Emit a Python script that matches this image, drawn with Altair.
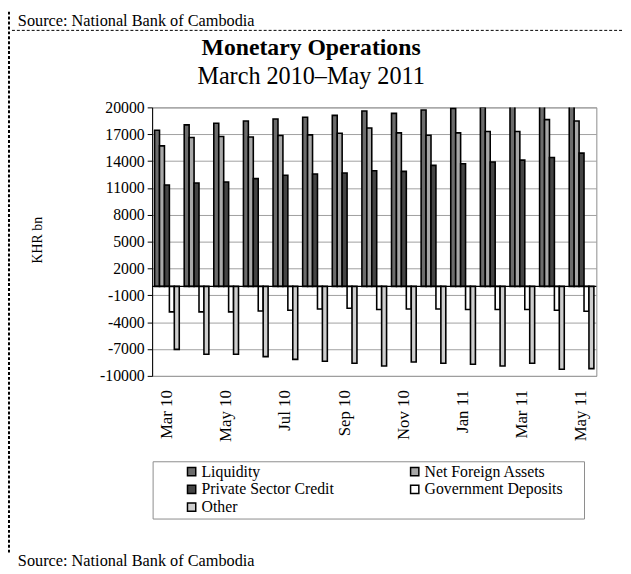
import altair as alt
import pandas as pd

# ---------------- data ----------------
months = ["Mar 10", "Apr 10", "May 10", "Jun 10", "Jul 10", "Aug 10", "Sep 10", "Oct 10",
          "Nov 10", "Dec 10", "Jan 11", "Feb 11", "Mar 11", "Apr 11", "May 11"]
series = ["Liquidity", "Net Foreign Assets", "Private Sector Credit",
          "Government Deposits", "Other"]
liquidity = [17450, 18050, 18220, 18480, 18700, 18890, 19110, 19590, 19330, 19700,
             19890, 20050, 20300, 20600, 20900]
net_foreign_assets = [15700, 16630, 16740, 16700, 16850, 16930, 17110, 17700, 17150, 16890,
                      17150, 17300, 17300, 18630, 18480]
private_sector_credit = [11330, 11560, 11670, 12040, 12410, 12560, 12670, 12930, 12850, 13520,
                         13700, 13890, 14110, 14410, 14890]
government_deposits = [-2850, -2850, -2850, -2740, -2670, -2520, -2440, -2590, -2520, -2520,
                       -2590, -2590, -2590, -2670, -2780]
other = [-7040, -7590, -7590, -7850, -8150, -8370, -8590, -8890, -8440, -8590,
         -8700, -8890, -8590, -9260, -9190]
y_ticks = [-10000, -7000, -4000, -1000, 2000, 5000, 8000, 11000, 14000, 17000, 20000]
shown_months = months[::2]

title_text = ["Monetary Operations"]
subtitle_text = ["March 2010\u2013May 2011"]
source_text = ["Source: National Bank of Cambodia"]
y_title = "KHR bn"

fills = ["#6c6c6c", "#a8a8a8", "#454545", "#ffffff", "#cdcdcd"]
# legend is filled column by column, so list entries in that order
legend_order = ["Liquidity", "Private Sector Credit", "Other",
                "Net Foreign Assets", "Government Deposits"]
legend_fills = [fills[series.index(s)] for s in legend_order]

rows = []
for i, m in enumerate(months):
    for s, vals in zip(series, [liquidity, net_foreign_assets, private_sector_credit,
                                government_deposits, other]):
        rows.append({"month": m, "series": s, "value": vals[i]})
df = pd.DataFrame(rows)

W, H = 450, 272
FONT = "Liberation Serif"

bars = alt.Chart(df).mark_bar(stroke="black", strokeWidth=1.6, clip=True).encode(
    x=alt.X("month:N", sort=months,
            scale=alt.Scale(paddingInner=0.167, paddingOuter=0.083),
            axis=alt.Axis(values=shown_months, labelAngle=270, ticks=False, domain=False,
                          labelPadding=14, title=None, grid=False, labelFontSize=17,
                          labelFont=FONT, labelColor="black")),
    xOffset=alt.XOffset("series:N", sort=series,
                        scale=alt.Scale(paddingInner=0, paddingOuter=0)),
    y=alt.Y("value:Q",
            scale=alt.Scale(domain=[-10000, 20000], nice=False, zero=False),
            axis=alt.Axis(values=y_ticks, tickCount=len(y_ticks), title=y_title,
                          titleAngle=270, titleX=-116,
                          titleY=134, titleAlign="center", titleBaseline="middle",
                          titleFont=FONT, titleFontSize=14, titleFontWeight="normal",
                          titleColor="black", labelOverlap=False,
                          labelExpr="'' + datum.value",
                          labelFont=FONT, labelFontSize=16, labelColor="black",
                          labelPadding=3, tickSize=5, tickColor="black",
                          domainColor="black", gridColor="#a0a0a0")),
    color=alt.Color("series:N",
                    scale=alt.Scale(domain=legend_order, range=legend_fills),
                    legend=alt.Legend(title=None, orient="none", legendX=32, legendY=361,
                                      columns=2, columnPadding=73, rowPadding=2,
                                      symbolType="square", symbolSize=70,
                                      symbolStrokeColor="black", symbolStrokeWidth=1.5,
                                      labelFont=FONT, labelFontSize=16, labelColor="black",
                                      labelOffset=2, padding=0)),
)

zero_line = alt.Chart(pd.DataFrame({"k": [0]})).mark_rule(
    color="black", strokeWidth=1.2).encode(y=alt.datum(0))

legend_box = alt.Chart(pd.DataFrame({"k": [0]})).mark_rect(
    fillOpacity=0, stroke="#8c8c8c", strokeWidth=1).encode(
    x=alt.value(1), x2=alt.value(438), y=alt.value(359), y2=alt.value(417))

title = alt.Chart(pd.DataFrame({"t": title_text})).mark_text(
    font=FONT, fontSize=24, fontWeight="bold", align="center", baseline="alphabetic",
    color="black").encode(text="t:N", x=alt.value(161), y=alt.value(-53))

subtitle = alt.Chart(pd.DataFrame({"t": subtitle_text})).mark_text(
    font=FONT, fontSize=24.5, align="center", baseline="alphabetic",
    color="black").encode(text="t:N", x=alt.value(161), y=alt.value(-24))

source_top = alt.Chart(pd.DataFrame({"t": source_text})).mark_text(
    font=FONT, fontSize=16.5, align="left", baseline="alphabetic",
    color="black").encode(text="t:N", x=alt.value(-136), y=alt.value(-82))

source_bottom = alt.Chart(pd.DataFrame({"t": source_text})).mark_text(
    font=FONT, fontSize=16.5, align="left", baseline="alphabetic",
    color="black").encode(text="t:N", x=alt.value(-136), y=alt.value(465))

dash_h = alt.Chart(pd.DataFrame({"k": [0]})).mark_rule(
    color="black", strokeWidth=1, strokeDash=[3, 2]).encode(
    x=alt.value(-142), x2=alt.value(477), y=alt.value(-78))

dash_v = alt.Chart(pd.DataFrame({"k": [0]})).mark_rule(
    color="black", strokeWidth=2, strokeDash=[3, 2]).encode(
    x=alt.value(-145), y=alt.value(-97), y2=alt.value(452))

chart = alt.layer(
    bars, zero_line, legend_box, title, subtitle, source_top, source_bottom, dash_h, dash_v
).properties(
    width=W, height=H,
    autosize=alt.AutoSizeParams(type="none"),
    padding={"left": 146, "top": 97, "right": 27, "bottom": 197},
).configure_view(stroke="#8c8c8c", strokeWidth=1)

chart.save("out.html", embed_options={"renderer": "svg", "actions": False})
